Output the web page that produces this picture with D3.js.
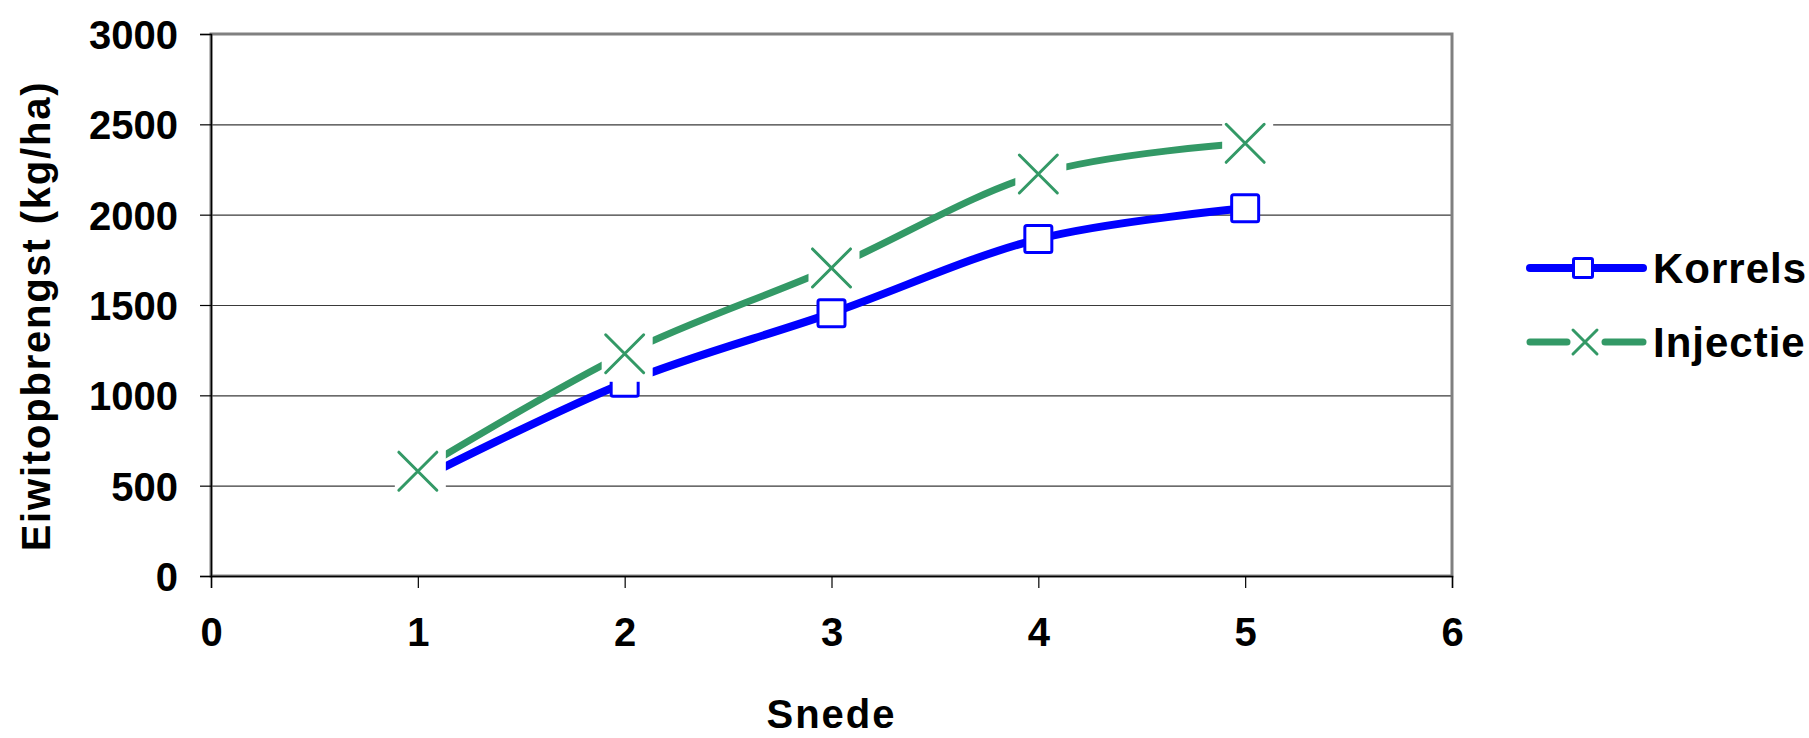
<!DOCTYPE html>
<html><head><meta charset="utf-8">
<script src="https://cdn.jsdelivr.net/npm/d3@7"></script>
<style>html,body{margin:0;padding:0;background:#fff;}svg{display:block;}</style>
</head><body>
<svg id="chart" width="1809" height="738"></svg>
<script>
const snede = [1, 2, 3, 4, 5];
const korrels = [530, 1070, 1455, 1865, 2035];
const injectie = [580, 1230, 1705, 2225, 2395];
const yTicks = [0, 500, 1000, 1500, 2000, 2500, 3000];
const xTicks = [0, 1, 2, 3, 4, 5, 6];
const seriesNames = ["Korrels", "Injectie"];
const yTitle = "Eiwitopbrengst (kg/ha)";
const xTitle = "Snede";

const FONT = "'Liberation Sans', Arial, sans-serif";
const BLUE = "#0000FF", GREEN = "#339966";
const svg = d3.select("#chart");
const L = 211, R = 1452, T = 34, B = 576;
const x = d3.scaleLinear().domain([0, 6]).range([L, R]);
const y = d3.scaleLinear().domain([0, 3000]).range([B, T]);

// gridlines
svg.append("g").selectAll("line").data(yTicks.filter(v => v > 0)).join("line")
  .attr("x1", L).attr("x2", R).attr("y1", d => y(d) + 0.5).attr("y2", d => y(d) + 0.5)
  .attr("stroke", "#3a3a3a").attr("stroke-width", 1.2);

// plot border
svg.append("rect").attr("x", L).attr("y", T).attr("width", R - L).attr("height", B - T)
  .attr("fill", "none").attr("stroke", "#808080").attr("stroke-width", 3);

// axes
const yAxis = d3.axisLeft(y).tickValues(yTicks).tickSize(11).tickPadding(22).tickFormat(d3.format("d"));
const gy = svg.append("g").attr("transform", `translate(${L},0)`).call(yAxis);
const xAxis = d3.axisBottom(x).tickValues(xTicks).tickSize(12).tickPadding(30).tickFormat(d3.format("d"));
const gx = svg.append("g").attr("transform", `translate(0,${B})`).call(xAxis);
[gy, gx].forEach(g => {
  g.select(".domain").attr("stroke", "#000").attr("stroke-width", 1.5);
  g.selectAll(".tick line").attr("stroke", "#000").attr("stroke-width", 1.2);
  g.selectAll(".tick text").attr("font-family", FONT).attr("font-weight", "bold")
    .attr("font-size", 40).attr("fill", "#000");
});
gy.selectAll(".tick text").attr("dy", "0.36em");
gx.selectAll(".tick text").attr("dy", "0.71em");

// titles
svg.append("text").attr("x", (L + R) / 2).attr("y", 728).attr("text-anchor", "middle")
  .attr("font-family", FONT).attr("font-weight", "bold").attr("font-size", 40)
  .attr("letter-spacing", 2).text(xTitle);
svg.append("text").attr("transform", `translate(50,316) rotate(-90)`).attr("text-anchor", "middle")
  .attr("font-family", FONT).attr("font-weight", "bold").attr("font-size", 40)
  .attr("letter-spacing", 1.8).text(yTitle);

// lines
const line = d3.line().x(d => x(d[0])).y(d => y(d[1])).curve(d3.curveCardinal.tension(0));
const kData = snede.map((s, i) => [s, korrels[i]]);
const iData = snede.map((s, i) => [s, injectie[i]]);
svg.append("path").datum(kData).attr("d", line).attr("fill", "none")
  .attr("stroke", BLUE).attr("stroke-width", 8);
svg.append("path").datum(iData).attr("d", line).attr("fill", "none")
  .attr("stroke", GREEN).attr("stroke-width", 7);

// Korrels markers
svg.append("g").selectAll("rect").data(kData).join("rect")
  .attr("x", d => x(d[0]) - 13.5).attr("y", d => y(d[1]) - 13.5)
  .attr("width", 27).attr("height", 27).attr("rx", 2)
  .attr("fill", "#fff").attr("stroke", BLUE).attr("stroke-width", 3);

// Injectie markers (with white background box)
const gi = svg.append("g").selectAll("g").data(iData).join("g")
  .attr("transform", d => `translate(${x(d[0])},${y(d[1])})`);
gi.append("rect").attr("x", -23).attr("y", -23).attr("width", 51).attr("height", 51).attr("fill", "#fff");
gi.append("path").attr("d", "M-19,-19L19,19M-19,19L19,-19").attr("fill", "none")
  .attr("stroke", GREEN).attr("stroke-width", 3).attr("stroke-linecap", "round");

// legend
const lg = svg.append("g");
const legendRows = [
  { name: seriesNames[0], color: BLUE, y: 268, w: 8, marker: "square" },
  { name: seriesNames[1], color: GREEN, y: 342, w: 7, marker: "x" }
];
legendRows.forEach(r => {
  if (r.marker === "square") {
    lg.append("line").attr("x1", 1530).attr("x2", 1643).attr("y1", r.y).attr("y2", r.y)
      .attr("stroke", r.color).attr("stroke-width", r.w).attr("stroke-linecap", "round");
    lg.append("rect").attr("x", 1583 - 9.5).attr("y", r.y - 9.5).attr("width", 19).attr("height", 19)
      .attr("rx", 1.5).attr("fill", "#fff").attr("stroke", r.color).attr("stroke-width", 3);
  } else {
    lg.append("line").attr("x1", 1530).attr("x2", 1567).attr("y1", r.y).attr("y2", r.y)
      .attr("stroke", r.color).attr("stroke-width", r.w).attr("stroke-linecap", "round");
    lg.append("line").attr("x1", 1605).attr("x2", 1643).attr("y1", r.y).attr("y2", r.y)
      .attr("stroke", r.color).attr("stroke-width", r.w).attr("stroke-linecap", "round");
    lg.append("path").attr("d", `M${1585-12},${r.y-12}L${1585+12},${r.y+12}M${1585-12},${r.y+12}L${1585+12},${r.y-12}`)
      .attr("stroke", r.color).attr("stroke-width", 3).attr("stroke-linecap", "round").attr("fill", "none");
  }
  lg.append("text").attr("x", 1653).attr("y", r.y + 15).attr("font-family", FONT)
    .attr("font-weight", "bold").attr("font-size", 42).attr("letter-spacing", 1).text(r.name);
});
</script>
</body></html>
